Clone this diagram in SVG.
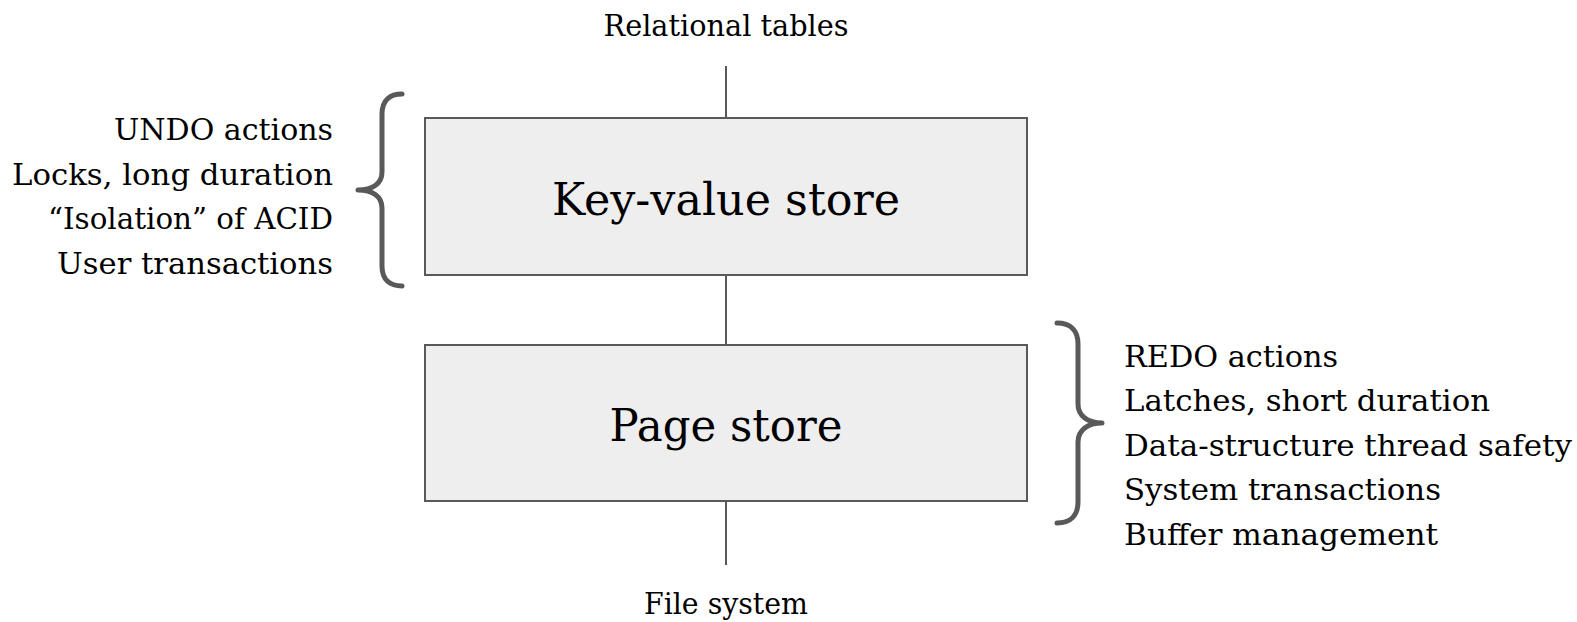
<svg xmlns="http://www.w3.org/2000/svg" width="1577" height="622" viewBox="0 0 1577 622">
  <style>
    .lbl { font-family: "DejaVu Serif", "Liberation Serif", serif; font-size: 30px; fill: #000; }
    .big { font-family: "DejaVu Serif", "Liberation Serif", serif; font-size: 45px; fill: #000; text-anchor: middle; }
    .box { fill: #eeeeee; stroke: #595959; stroke-width: 2; }
    .wire { stroke: #595959; stroke-width: 2; fill: none; }
    .brace { stroke: #595959; stroke-width: 5; fill: none; stroke-linecap: round; stroke-linejoin: round; }
  </style>
  <rect width="1577" height="622" fill="#ffffff"/>

  <!-- vertical connectors through the stack -->
  <g id="connectors">
    <line class="wire" x1="726" y1="66" x2="726" y2="118"/>
    <line class="wire" x1="726" y1="275" x2="726" y2="345"/>
    <line class="wire" x1="726" y1="501" x2="726" y2="565"/>
  </g>

  <g id="relational-tables">
    <text class="lbl" x="726" y="36" text-anchor="middle" textLength="245" lengthAdjust="spacingAndGlyphs">Relational tables</text>
  </g>

  <g id="key-value-store">
    <rect class="box" x="425" y="118" width="602" height="157"/>
    <text class="big" x="726" y="215" textLength="348" lengthAdjust="spacingAndGlyphs">Key-value store</text>
  </g>

  <g id="page-store">
    <rect class="box" x="425" y="345" width="602" height="156"/>
    <text class="big" x="726" y="441" textLength="233" lengthAdjust="spacingAndGlyphs">Page store</text>
  </g>

  <g id="file-system">
    <text class="lbl" x="726" y="614" text-anchor="middle" textLength="164" lengthAdjust="spacingAndGlyphs">File system</text>
  </g>

  <!-- upper layer responsibilities -->
  <g id="upper-notes">
    <path class="brace" d="M402,94 C390,94 382,100 382,114 L382,172 C382,184 372,190 358,190 C372,190 382,196 382,208 L382,266 C382,280 390,286 402,286"/>
    <text class="lbl" x="333" y="140" text-anchor="end" textLength="219" lengthAdjust="spacingAndGlyphs">UNDO actions</text>
    <text class="lbl" x="333" y="185" text-anchor="end" textLength="321" lengthAdjust="spacingAndGlyphs">Locks, long duration</text>
    <text class="lbl" x="333" y="229" text-anchor="end" textLength="285" lengthAdjust="spacingAndGlyphs">“Isolation” of ACID</text>
    <text class="lbl" x="333" y="274" text-anchor="end" textLength="276" lengthAdjust="spacingAndGlyphs">User transactions</text>
  </g>

  <!-- lower layer responsibilities -->
  <g id="lower-notes">
    <path class="brace" d="M1057,323 C1070,323 1078,330 1078,344 L1078,404 C1078,416 1088,423 1102,423 C1088,423 1078,430 1078,442 L1078,502 C1078,516 1070,523 1057,523"/>
    <text class="lbl" x="1124" y="367" textLength="214" lengthAdjust="spacingAndGlyphs">REDO actions</text>
    <text class="lbl" x="1124" y="411" textLength="366" lengthAdjust="spacingAndGlyphs">Latches, short duration</text>
    <text class="lbl" x="1124" y="456" textLength="448" lengthAdjust="spacingAndGlyphs">Data-structure thread safety</text>
    <text class="lbl" x="1124" y="500" textLength="317" lengthAdjust="spacingAndGlyphs">System transactions</text>
    <text class="lbl" x="1124" y="545" textLength="314" lengthAdjust="spacingAndGlyphs">Buffer management</text>
  </g>
</svg>
